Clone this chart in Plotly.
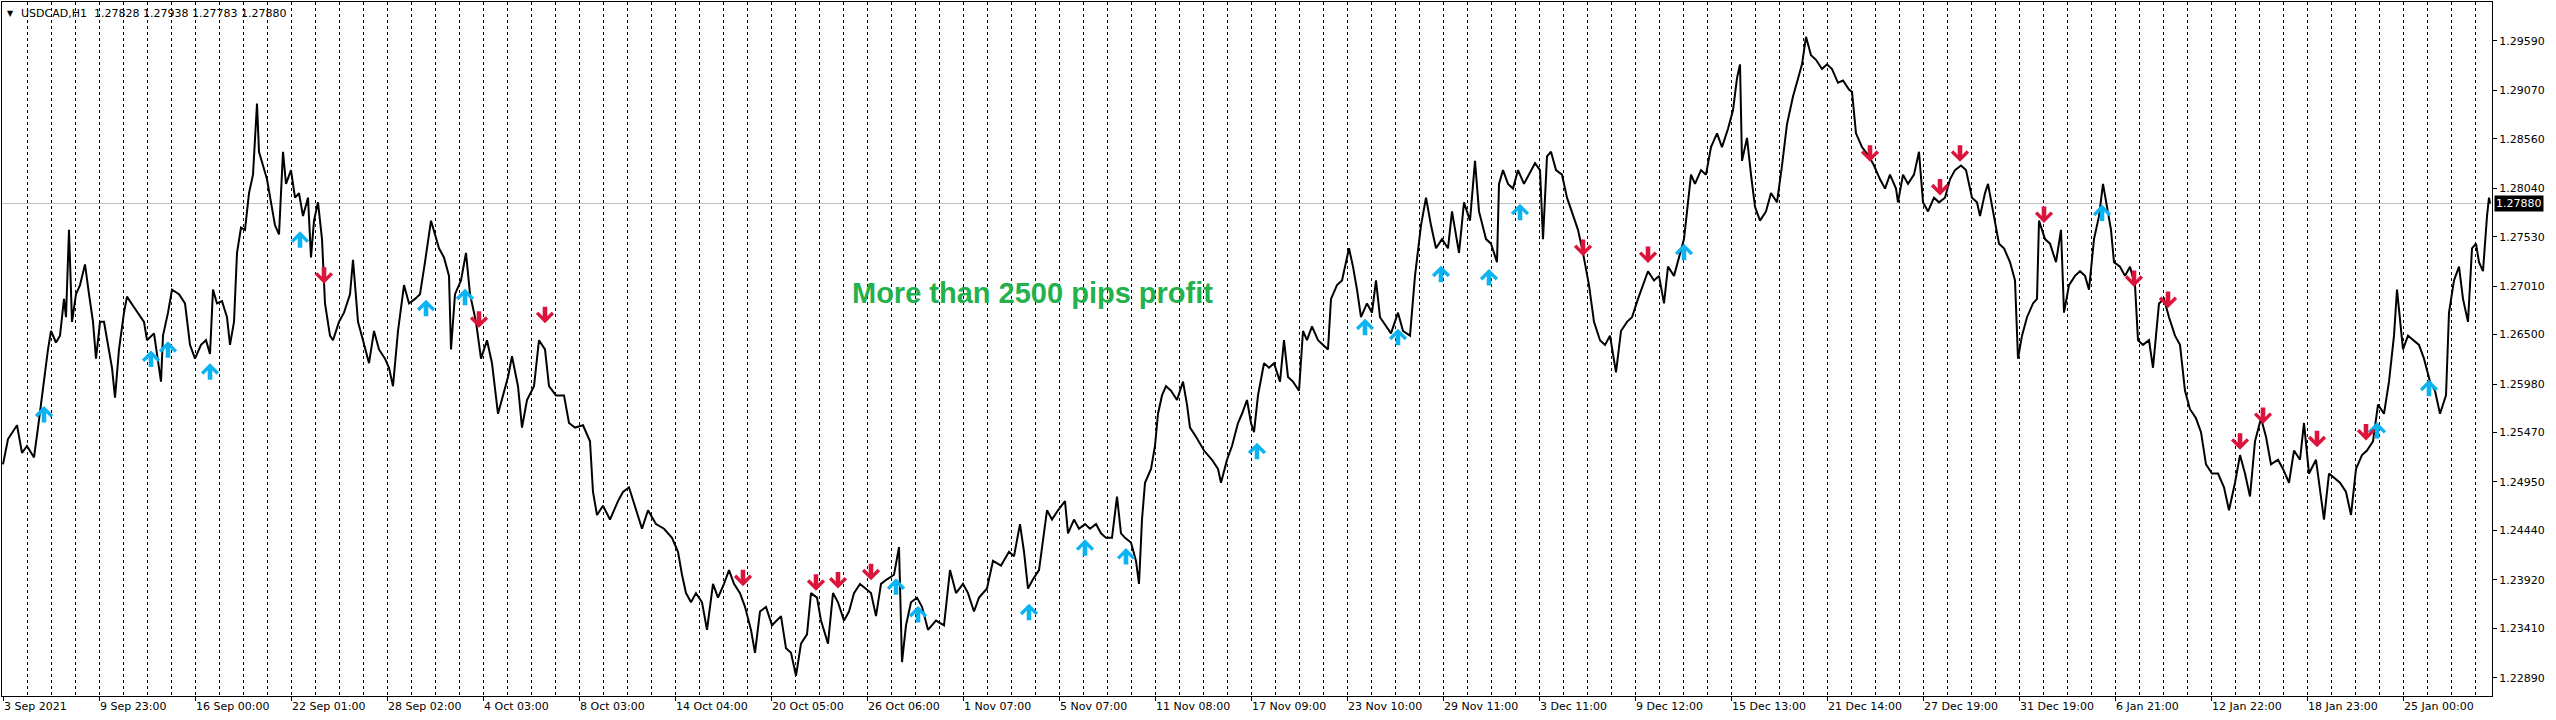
import plotly.graph_objects as go

# ---- data (bar number since 3 Sep 2021, H1 price) ----
seg_sep_oct = [
    (0, 1.25135), (5, 1.25401), (14, 1.25546), (19, 1.25256), (24, 1.25328), (31, 1.25207), (35, 1.25522),
    (40, 1.25957), (45, 1.26344), (48, 1.26538), (53, 1.26417), (57, 1.26489), (61, 1.26876), (63, 1.26683),
    (66, 1.27602), (69, 1.26634), (73, 1.26925), (77, 1.27021), (82, 1.27239), (86, 1.26925), (90, 1.26634),
    (93, 1.26247), (97, 1.26634), (101, 1.26634), (105, 1.26392), (109, 1.26151), (112, 1.25836), (116, 1.26344),
    (121, 1.26731), (124, 1.26900), (130, 1.26804), (135, 1.26731), (141, 1.26634), (144, 1.26441), (151, 1.26513),
    (158, 1.26005), (160, 1.26489), (165, 1.26731), (169, 1.26973), (176, 1.26925), (182, 1.26828), (187, 1.26392),
    (192, 1.26247), (198, 1.26392), (203, 1.26441), (207, 1.26296), (210, 1.26973), (214, 1.26828), (219, 1.26852),
    (224, 1.26683), (227, 1.26392), (231, 1.26634), (234, 1.27360), (238, 1.27626), (242, 1.27602), (246, 1.27989),
    (250, 1.28183), (254, 1.28932), (256, 1.28424), (260, 1.28279), (264, 1.28134), (268, 1.27892), (272, 1.27650),
    (276, 1.27554), (280, 1.28424), (283, 1.28086), (288, 1.28231), (292, 1.27941), (296, 1.27989), (300, 1.27747),
    (305, 1.27941), (308, 1.27312), (311, 1.27699), (315, 1.27892), (319, 1.27505), (322, 1.26828), (327, 1.26489),
    (330, 1.26441), (336, 1.26634), (341, 1.26731), (347, 1.26925), (350, 1.27288), (355, 1.26634), (360, 1.26441),
    (366, 1.26199), (371, 1.26538), (376, 1.26344), (382, 1.26247), (386, 1.26151), (390, 1.25957), (395, 1.26538),
    (401, 1.27021), (406, 1.26828), (412, 1.26876), (417, 1.26925), (422, 1.27263), (428, 1.27699), (432, 1.27554),
    (436, 1.27408), (441, 1.27312), (446, 1.27118), (448, 1.26344), (452, 1.26925), (458, 1.27070), (463, 1.27360),
    (467, 1.26925), (473, 1.26634), (478, 1.26247), (484, 1.26441), (489, 1.26199), (495, 1.25667), (500, 1.25860),
    (505, 1.26054), (509, 1.26272), (515, 1.25957), (519, 1.25522), (524, 1.25812), (531, 1.25957), (536, 1.26441),
    (542, 1.26344), (546, 1.25957), (553, 1.25860), (561, 1.25860), (566, 1.25570), (572, 1.25522), (580, 1.25546),
    (587, 1.25377), (590, 1.24844), (594, 1.24602), (600, 1.24699), (607, 1.24554), (615, 1.24748), (620, 1.24844),
    (626, 1.24893), (632, 1.24699), (639, 1.24457), (645, 1.24651), (653, 1.24506), (661, 1.24457), (669, 1.24361),
    (675, 1.24215), (679, 1.23973), (683, 1.23780), (688, 1.23683), (693, 1.23780), (699, 1.23683), (704, 1.23393),
    (710, 1.23877), (715, 1.23732), (721, 1.23877), (726, 1.24022), (731, 1.23877), (737, 1.23780), (742, 1.23635),
    (748, 1.23393), (752, 1.23151), (757, 1.23586), (763, 1.23635), (769, 1.23441), (778, 1.23538), (783, 1.23199),
    (788, 1.23151), (793, 1.22909), (798, 1.23248), (804, 1.23345), (808, 1.23780), (814, 1.23732), (818, 1.23490),
    (825, 1.23248),
]
seg_oct_dec = [
    (830, 1.23780), (835, 1.23683), (841, 1.23490), (846, 1.23586), (851, 1.23780), (857, 1.23877), (862, 1.23828),
    (868, 1.23780), (873, 1.23538), (878, 1.23877), (884, 1.23925), (891, 1.23973), (896, 1.24264), (899, 1.23054),
    (903, 1.23441), (908, 1.23683), (914, 1.23732), (919, 1.23635), (925, 1.23393), (933, 1.23490), (941, 1.23441),
    (947, 1.24022), (953, 1.23780), (960, 1.23877), (965, 1.23780), (971, 1.23586), (976, 1.23732), (984, 1.23828),
    (990, 1.24119), (998, 1.24070), (1006, 1.24215), (1011, 1.24167), (1017, 1.24506), (1021, 1.24215), (1025, 1.23828),
    (1030, 1.23925), (1036, 1.24022), (1039, 1.24264), (1044, 1.24651), (1049, 1.24554), (1055, 1.24651), (1062, 1.24748),
    (1065, 1.24409), (1071, 1.24554), (1076, 1.24457), (1082, 1.24506), (1087, 1.24457), (1093, 1.24506), (1098, 1.24409),
    (1103, 1.24361), (1109, 1.24361), (1114, 1.24796), (1118, 1.24409), (1122, 1.24361), (1128, 1.24312), (1133, 1.24119),
    (1136, 1.23877), (1139, 1.24554), (1142, 1.24941), (1148, 1.25086), (1152, 1.25328), (1155, 1.25667), (1159, 1.25860),
    (1163, 1.25957), (1168, 1.25909), (1174, 1.25812), (1180, 1.26005), (1184, 1.25764), (1187, 1.25522), (1193, 1.25425),
    (1201, 1.25280), (1209, 1.25183), (1215, 1.25086), (1218, 1.24941), (1224, 1.25183), (1229, 1.25328), (1235, 1.25570),
    (1239, 1.25667), (1244, 1.25812), (1248, 1.25570), (1251, 1.25473), (1255, 1.25860), (1261, 1.26199), (1266, 1.26151),
    (1271, 1.26199), (1277, 1.26005), (1281, 1.26441), (1285, 1.26054), (1290, 1.26005), (1296, 1.25909), (1300, 1.26538),
    (1304, 1.26441), (1309, 1.26586), (1315, 1.26441), (1320, 1.26392), (1325, 1.26344), (1328, 1.26876), (1334, 1.27021),
    (1339, 1.27070), (1343, 1.27263), (1346, 1.27408), (1350, 1.27215), (1354, 1.26973), (1358, 1.26683), (1364, 1.26828),
    (1369, 1.26731), (1373, 1.27070), (1377, 1.26683), (1383, 1.26586), (1388, 1.26513), (1395, 1.26731), (1400, 1.26538),
    (1407, 1.26489), (1412, 1.27118), (1418, 1.27650), (1423, 1.27941), (1428, 1.27650), (1433, 1.27408), (1439, 1.27505),
    (1445, 1.27408), (1449, 1.27796), (1456, 1.27360), (1461, 1.27892), (1467, 1.27699), (1472, 1.28328), (1476, 1.27796),
    (1483, 1.27505), (1488, 1.27457), (1494, 1.27263), (1496, 1.28086), (1500, 1.28231), (1505, 1.28086), (1510, 1.28037),
    (1515, 1.28231), (1521, 1.28086), (1526, 1.28183), (1532, 1.28304), (1537, 1.28231), (1540, 1.27505), (1544, 1.28376),
    (1548, 1.28424), (1553, 1.28231), (1559, 1.28183), (1564, 1.27941), (1570, 1.27747), (1575, 1.27602), (1580, 1.27360),
    (1586, 1.27021), (1591, 1.26634), (1597, 1.26441), (1602, 1.26392), (1607, 1.26489), (1613, 1.26102), (1618, 1.26538),
    (1624, 1.26634), (1629, 1.26683), (1635, 1.26876), (1640, 1.27021), (1645, 1.27167), (1651, 1.27070), (1656, 1.27118),
]
seg_dec_jan = [
    (1661, 1.26828), (1665, 1.27215), (1671, 1.27118), (1676, 1.27312), (1681, 1.27505), (1685, 1.27892), (1688, 1.28183),
    (1692, 1.28086), (1698, 1.28231), (1703, 1.28183), (1708, 1.28473), (1714, 1.28618), (1719, 1.28473), (1725, 1.28666),
    (1730, 1.28860), (1734, 1.29199), (1737, 1.29344), (1739, 1.28328), (1744, 1.28570), (1748, 1.28183), (1752, 1.27844),
    (1757, 1.27699), (1763, 1.27796), (1768, 1.27989), (1774, 1.27892), (1779, 1.28279), (1784, 1.28715), (1790, 1.29005),
    (1795, 1.29199), (1799, 1.29344), (1803, 1.29634), (1808, 1.29440), (1813, 1.29392), (1819, 1.29295), (1824, 1.29344),
    (1829, 1.29295), (1835, 1.29150), (1840, 1.29174), (1846, 1.29078), (1849, 1.29054), (1853, 1.28618), (1859, 1.28473),
    (1866, 1.28376), (1871, 1.28279), (1877, 1.28134), (1882, 1.28037), (1887, 1.28183), (1893, 1.28037), (1895, 1.27892),
    (1900, 1.28183), (1905, 1.28086), (1911, 1.28183), (1916, 1.28424), (1920, 1.27892), (1925, 1.27796), (1931, 1.27941),
    (1936, 1.27892), (1942, 1.27941), (1947, 1.28134), (1952, 1.28231), (1958, 1.28279), (1963, 1.28231), (1969, 1.27941),
    (1974, 1.27892), (1977, 1.27747), (1982, 1.27989), (1985, 1.28086), (1990, 1.27796), (1996, 1.27457), (2001, 1.27408),
    (2007, 1.27263), (2012, 1.27070), (2015, 1.26247), (2019, 1.26489), (2024, 1.26683), (2030, 1.26828), (2034, 1.26876),
    (2036, 1.27699), (2042, 1.27505), (2047, 1.27457), (2053, 1.27263), (2058, 1.27602), (2061, 1.26731), (2066, 1.27021),
    (2072, 1.27118), (2077, 1.27167), (2082, 1.27118), (2086, 1.26973), (2091, 1.27505), (2096, 1.27747), (2100, 1.28086),
    (2104, 1.27844), (2108, 1.27602), (2111, 1.27263), (2117, 1.27215), (2122, 1.27118), (2127, 1.27215), (2132, 1.27021),
    (2135, 1.26441), (2140, 1.26392), (2146, 1.26441), (2150, 1.26151), (2156, 1.26828), (2161, 1.26876), (2166, 1.26683),
    (2172, 1.26489), (2177, 1.26392), (2182, 1.25909), (2187, 1.25715), (2193, 1.25619), (2198, 1.25473), (2203, 1.25135),
    (2209, 1.25038), (2215, 1.25038), (2221, 1.24893), (2226, 1.24651), (2232, 1.24941), (2237, 1.25232), (2242, 1.25038),
    (2247, 1.24796), (2252, 1.25377), (2258, 1.25619), (2263, 1.25425), (2268, 1.25135), (2275, 1.25183), (2280, 1.25086),
    (2286, 1.24941), (2291, 1.25280), (2297, 1.25183), (2301, 1.25570), (2306, 1.25038), (2313, 1.25183), (2318, 1.24796),
    (2321, 1.24554), (2326, 1.25038), (2332, 1.24990), (2337, 1.24941), (2343, 1.24844), (2348, 1.24602), (2353, 1.25086),
    (2359, 1.25232), (2364, 1.25280), (2370, 1.25377), (2375, 1.25764), (2381, 1.25667), (2386, 1.26005), (2391, 1.26489),
    (2394, 1.26973), (2400, 1.26344), (2405, 1.26489), (2410, 1.26441), (2416, 1.26392), (2421, 1.26247), (2427, 1.26005),
    (2432, 1.25909), (2437, 1.25667), (2443, 1.25860), (2446, 1.26731), (2451, 1.27070), (2456, 1.27215), (2460, 1.26876),
    (2465, 1.26634), (2469, 1.27408), (2473, 1.27457), (2476, 1.27263), (2480, 1.27167), (2484, 1.27747), (2486, 1.27941),
    (2487, 1.27880),
]

# buy signals (blue up arrows): bar, price at arrow tip
buy_bars = [41, 148, 165, 207, 297, 423, 462, 893, 915, 1026, 1082, 1123, 1254, 1362, 1395, 1438, 1486, 1517,
            1681, 2099, 2374, 2426]
buy_prices = [1.25749, 1.26334, 1.26431, 1.26199, 1.27587, 1.26867, 1.26983, 1.23935, 1.23645, 1.23669, 1.24346,
              1.24254, 1.25362, 1.26668, 1.26562, 1.27225, 1.27191, 1.27878, 1.27457, 1.27868, 1.25580, 1.26025]
# sell signals (red down arrows)
sell_bars = [321, 476, 542, 740, 813, 835, 868, 1580, 1645, 1867, 1937, 1957, 2041, 2131, 2165, 2237, 2260, 2314, 2363]
sell_prices = [1.27036, 1.26572, 1.26620, 1.23853, 1.23804, 1.23828, 1.23915, 1.27326, 1.27254, 1.28318, 1.27965,
               1.28318, 1.27675, 1.27002, 1.26780, 1.25289, 1.25560, 1.25314, 1.25386]

time_labels = ["3 Sep 2021", "9 Sep 23:00", "16 Sep 00:00", "22 Sep 01:00", "28 Sep 02:00", "4 Oct 03:00",
               "8 Oct 03:00", "14 Oct 04:00", "20 Oct 05:00", "26 Oct 06:00", "1 Nov 07:00", "5 Nov 07:00",
               "11 Nov 08:00", "17 Nov 09:00", "23 Nov 10:00", "29 Nov 11:00", "3 Dec 11:00", "9 Dec 12:00",
               "15 Dec 13:00", "21 Dec 14:00", "27 Dec 19:00", "31 Dec 19:00", "6 Jan 21:00", "12 Jan 22:00",
               "18 Jan 23:00", "25 Jan 00:00"]
bars_per_label = 96
bars_per_grid = 24
price_ticks = [1.29590, 1.29070, 1.28560, 1.28040, 1.27530, 1.27010, 1.26500, 1.25980, 1.25470, 1.24950,
               1.24440, 1.23920, 1.23410, 1.22890]
last_price = 1.27880
header = "USDCAD,H1  1.27828 1.27938 1.27783 1.27880"
note = "More than 2500 pips profit"

# ---- figure ----
points = seg_sep_oct + seg_oct_dec + seg_dec_jan
bars = [p[0] for p in points]
prices = [p[1] for p in points]

FONT = "DejaVu Sans"
fig = go.Figure()
fig.add_trace(go.Scatter(x=bars, y=prices, mode="lines", line=dict(color="black", width=2),
                         hoverinfo="skip", showlegend=False))

label_pos = [i * bars_per_label for i in range(len(time_labels))]

annotations = []
for b, p in zip(buy_bars, buy_prices):
    annotations.append(dict(x=b, y=p, xref="x", yref="y", ax=0, ay=18, text="", showarrow=True,
                            arrowhead=4, arrowsize=0.66, arrowwidth=4.6, arrowcolor="#0BB4F0", standoff=0))
for b, p in zip(sell_bars, sell_prices):
    annotations.append(dict(x=b, y=p, xref="x", yref="y", ax=0, ay=-18, text="", showarrow=True,
                            arrowhead=4, arrowsize=0.66, arrowwidth=4.6, arrowcolor="#DC143C", standoff=0))

annotations.append(dict(x=1029, y=1.26938, xref="x", yref="y", text="<b>" + note + "</b>", showarrow=False,
                        font=dict(family="Liberation Sans", size=29, color="#22B14C")))
annotations.append(dict(x=0, y=1, xref="paper", yref="paper", xanchor="left", yanchor="top", xshift=3, yshift=-5,
                        text="▼", showarrow=False, font=dict(family=FONT, size=8, color="black")))
annotations.append(dict(x=0, y=1, xref="paper", yref="paper", xanchor="left", yanchor="top", xshift=17, yshift=-3,
                        text=header, showarrow=False, font=dict(family=FONT, size=11, color="black")))
annotations.append(dict(x=1, y=last_price, xref="paper", yref="y", xanchor="left", yanchor="middle", xshift=2,
                        text=f"{last_price:.5f}", showarrow=False, bgcolor="black", borderpad=1,
                        font=dict(family=FONT, size=11, color="white")))

fig.update_layout(
    width=2556, height=720,
    margin=dict(l=2, r=64, t=2, b=24),
    paper_bgcolor="white", plot_bgcolor="white",
    showlegend=False,
    annotations=annotations,
    shapes=[dict(type="line", xref="paper", x0=0, x1=1, yref="y", y0=last_price, y1=last_price,
                 line=dict(color="#C0C0C0", width=1), layer="below")],
    xaxis=dict(range=[-1, 2489], tickmode="array", tickvals=label_pos, ticktext=time_labels,
               ticks="outside", ticklen=4, tickcolor="black", ticklabelposition="outside right",
               tickfont=dict(family=FONT, size=11, color="black"),
               showline=True, linecolor="black", linewidth=1, mirror=True, zeroline=False,
               showgrid=True, gridcolor="black", gridwidth=1, griddash="3px,3px",
               minor=dict(tickmode="linear", tick0=0, dtick=bars_per_grid, showgrid=True,
                          gridcolor="black", gridwidth=1, griddash="3px,3px", ticks="")),
    yaxis=dict(range=[1.22697, 1.30000], side="right", tickmode="array", tickvals=price_ticks,
               ticktext=[f"{v:.5f}" for v in price_ticks], ticks="outside", ticklen=4, tickcolor="black",
               tickfont=dict(family=FONT, size=11, color="black"),
               showline=True, linecolor="black", linewidth=1, mirror=True, zeroline=False, showgrid=False),
)

fig.write_html("out.html", config={"displayModeBar": False},
               post_script="document.body.style.margin='0';document.body.style.overflow='hidden';")
